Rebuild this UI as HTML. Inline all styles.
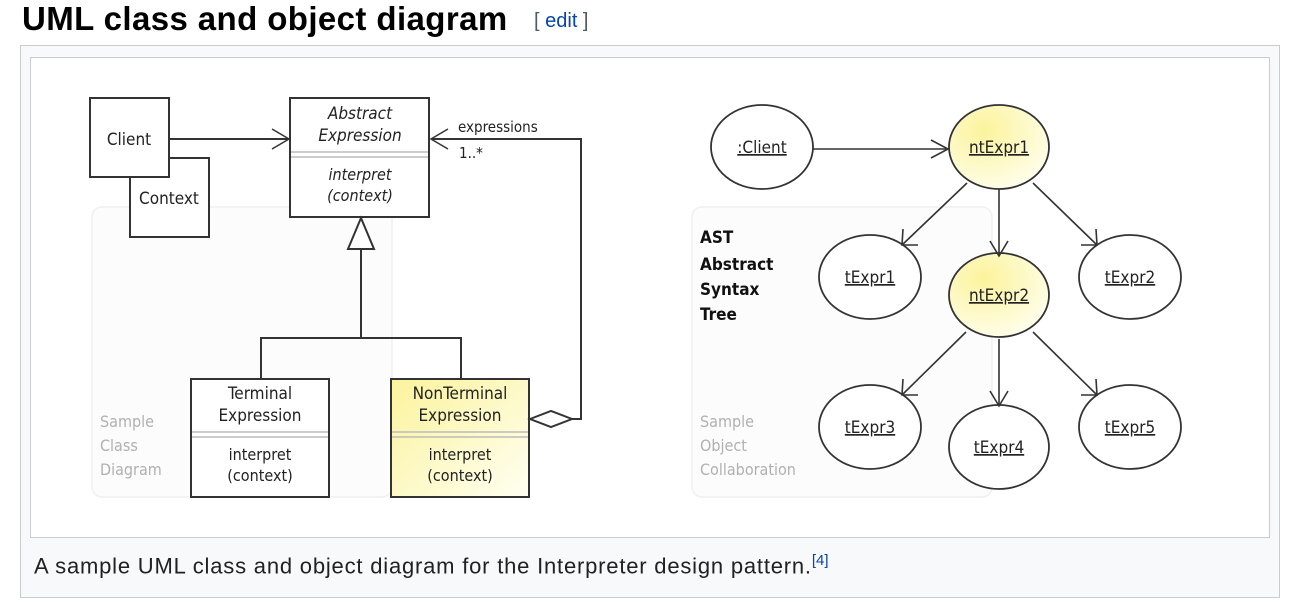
<!DOCTYPE html>
<html><head><meta charset="utf-8"><style>
body{margin:0;width:1292px;height:612px;background:#fff;position:relative;overflow:hidden;font-family:"Liberation Sans",sans-serif;}
.t{position:absolute;left:22px;top:0px;font-size:33px;letter-spacing:0.4px;font-weight:bold;color:#000;white-space:nowrap;}
.e{position:absolute;left:534px;top:10px;font-size:20px;color:#54595d;}
.e span{color:#0645ad;}
.f{position:absolute;left:20px;top:45px;width:1258px;height:551px;border:1px solid #c8ccd1;background:#f8f9fa;}
.i{position:absolute;left:30px;top:57px;width:1238px;height:479px;border:1px solid #c8ccd1;background:#fff;}
.c{position:absolute;left:34px;top:552px;font-size:22px;letter-spacing:0.8px;color:#202122;white-space:nowrap;}
.c sup{font-size:15px;color:#0645ad;letter-spacing:0;}
svg{position:absolute;left:0;top:0;}
</style></head><body>
<div class="t">UML class and object diagram</div>
<div class="e">[ <span>edit</span> ]</div>
<div class="f"></div>
<div class="i"></div>
<svg width="1292" height="612" font-family="DejaVu Sans Condensed, Liberation Sans, sans-serif">
<defs>
<linearGradient id="y" x1="0" y1="0" x2="1" y2="1"><stop offset="0" stop-color="#fbf39c"/><stop offset="1" stop-color="#fffff2"/></linearGradient>
<radialGradient id="ry" cx="0.35" cy="0.3" r="0.8"><stop offset="0" stop-color="#fbf39c"/><stop offset="1" stop-color="#fffff0"/></radialGradient>
</defs>
<g fill="#fcfcfc" stroke="#f0f0f0" stroke-width="1.5">
<rect x="92" y="207" width="300" height="290" rx="10"/>
<rect x="692" y="207" width="300" height="290" rx="10"/>
</g>
<g fill="#b0b0b0" font-size="16">
<text x="100" y="427">Sample</text><text x="100" y="451">Class</text><text x="100" y="475">Diagram</text>
<text x="700" y="427">Sample</text><text x="700" y="451">Object</text><text x="700" y="475">Collaboration</text>
</g>
<g stroke="#333" stroke-width="2" fill="#fff">
<rect x="130" y="158" width="79" height="79"/>
<rect x="90" y="98" width="79" height="79"/>
<rect x="290" y="98" width="139" height="119"/>
<rect x="191" y="379" width="138" height="118"/>
<rect x="391" y="379" width="138" height="118" fill="url(#y)"/>
</g>
<g stroke="#bbb" stroke-width="1.5">
<line x1="291" y1="152" x2="428" y2="152"/><line x1="291" y1="157" x2="428" y2="157"/>
<line x1="192" y1="432" x2="328" y2="432"/><line x1="192" y1="437" x2="328" y2="437"/>
<line x1="392" y1="432" x2="528" y2="432"/><line x1="392" y1="437" x2="528" y2="437"/>
</g>
<g fill="none" stroke="#333" stroke-width="2">
<line x1="169" y1="139" x2="289" y2="139"/>
<polyline points="272,129 289,139 272,149" stroke-width="1.5"/>
<polygon points="361,218 348,249 374,249" fill="#fff"/>
<polyline points="361,249 361,338"/>
<polyline points="261,378 261,338 461,338 461,378"/>
<polyline points="572,419 581,419 581,139 431,139"/>
<polyline points="448,129 431,139 448,149" stroke-width="1.5"/>
<polygon points="530,419 551,411 572,419 551,427" fill="#fff"/>
</g>
<g fill="#222" font-size="17" text-anchor="middle">
<text x="129" y="145">Client</text>
<text x="169" y="204">Context</text>
<text x="360" y="119" font-style="italic">Abstract</text>
<text x="360" y="141" font-style="italic">Expression</text>
<text x="360" y="180" font-style="italic" font-size="16">interpret</text>
<text x="360" y="201" font-style="italic" font-size="16">(context)</text>
<text x="260" y="399">Terminal</text><text x="260" y="421">Expression</text>
<text x="260" y="460" font-size="16">interpret</text><text x="260" y="481" font-size="16">(context)</text>
<text x="460" y="399">NonTerminal</text><text x="460" y="421">Expression</text>
<text x="460" y="460" font-size="16">interpret</text><text x="460" y="481" font-size="16">(context)</text>
</g>
<g fill="#222" font-size="15"><text x="458" y="132">expressions</text><text x="459" y="158">1..*</text></g>
<g stroke="#333" stroke-width="1.8" fill="#fff">
<ellipse cx="762" cy="147" rx="51" ry="42"/>
<ellipse cx="999" cy="147" rx="50" ry="42" fill="url(#ry)"/>
<ellipse cx="870" cy="277" rx="51" ry="42"/>
<ellipse cx="999" cy="295" rx="50" ry="42" fill="url(#ry)"/>
<ellipse cx="1130" cy="277" rx="51" ry="42"/>
<ellipse cx="870" cy="427" rx="51" ry="42"/>
<ellipse cx="999" cy="447" rx="50" ry="42"/>
<ellipse cx="1130" cy="427" rx="51" ry="42"/>
</g>
<g stroke="#333" stroke-width="1.6" fill="none">
<line x1="813" y1="149" x2="948" y2="149"/><polyline points="931,140 948,149 931,158"/>
<line x1="967" y1="183" x2="902" y2="245"/><polyline points="903,229 902,245 918,245"/>
<line x1="999" y1="189" x2="999" y2="256"/><polyline points="990,241 999,256 1008,241"/>
<line x1="1033" y1="183" x2="1097" y2="245"/><polyline points="1081,245 1097,245 1096,229"/>
<line x1="966" y1="332" x2="902" y2="395"/><polyline points="903,379 902,395 918,395"/>
<line x1="999" y1="339" x2="999" y2="406"/><polyline points="990,391 999,406 1008,391"/>
<line x1="1033" y1="332" x2="1097" y2="395"/><polyline points="1081,395 1097,395 1096,379"/>
</g>
<g fill="#222" font-size="17" text-anchor="middle" text-decoration="underline">
<text x="762" y="153">:Client</text>
<text x="999" y="153">ntExpr1</text>
<text x="870" y="283">tExpr1</text>
<text x="999" y="301">ntExpr2</text>
<text x="1130" y="283">tExpr2</text>
<text x="870" y="433">tExpr3</text>
<text x="999" y="453">tExpr4</text>
<text x="1130" y="433">tExpr5</text>
</g>
<g fill="#111" font-size="17" font-weight="bold">
<text x="700" y="243">AST</text><text x="700" y="270">Abstract</text><text x="700" y="295">Syntax</text><text x="700" y="320">Tree</text>
</g>
</svg>
<div class="c">A sample UML class and object diagram for the Interpreter design pattern.<sup>[4]</sup></div>
</body></html>
